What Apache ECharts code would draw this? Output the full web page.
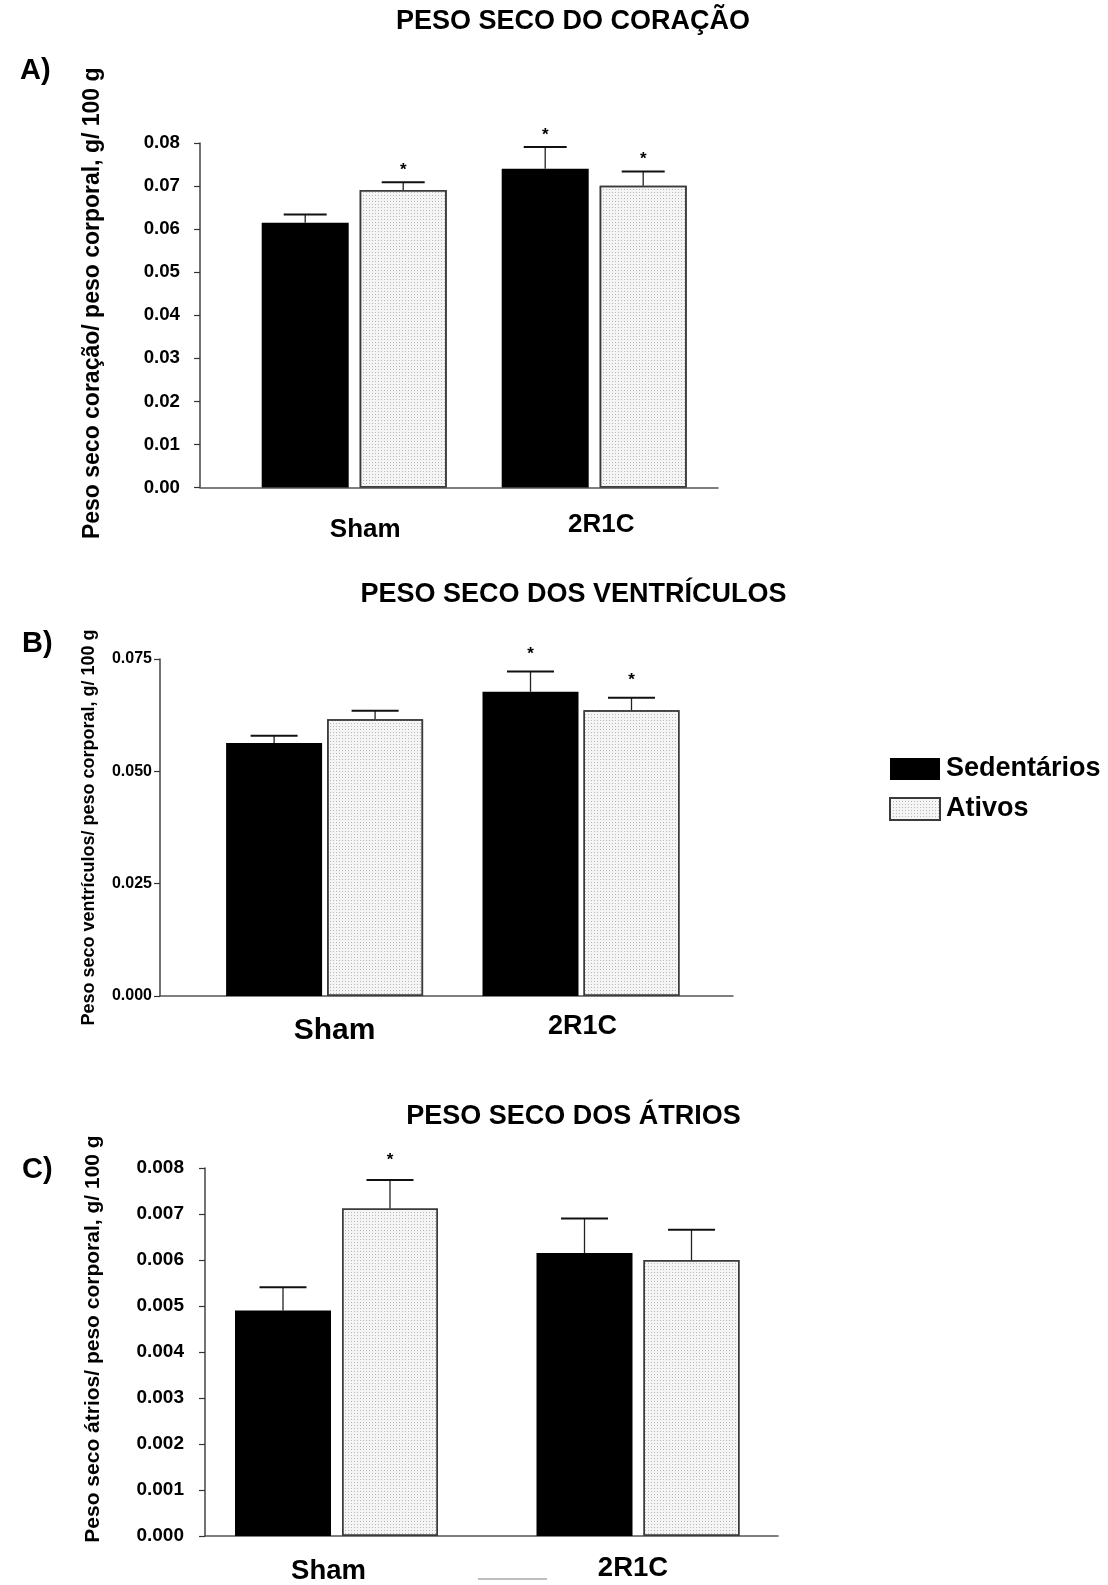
<!DOCTYPE html>
<html>
<head>
<meta charset="utf-8">
<script src="https://cdn.jsdelivr.net/npm/echarts@6/dist/echarts.min.js"></script>
<style>
html,body{margin:0;padding:0;background:#fff;}
#chart{width:1108px;height:1585px;}
</style>
</head>
<body>
<div id="chart"></div>
<script>
// ---------- DATA ----------
const categories = ['Sham', '2R1C'];
const groupNames = ['Sedentários', 'Ativos'];

// A) Peso seco do coração
const heartSed = [0.0615, 0.0740];
const heartSedErr = [0.0019, 0.0051];
const heartSedSig = [0, 1];
const heartAtiv = [0.0691, 0.0701];
const heartAtivErr = [0.0018, 0.0033];
const heartAtivSig = [1, 1];
const heartAxis = {min: 0, max: 0.08, interval: 0.01, decimals: 2};

// B) Peso seco dos ventrículos
const ventSed = [0.0563, 0.0677];
const ventSedErr = [0.0016, 0.0045];
const ventSedSig = [0, 1];
const ventAtiv = [0.0616, 0.0636];
const ventAtivErr = [0.0019, 0.0028];
const ventAtivSig = [0, 1];
const ventAxis = {min: 0, max: 0.075, interval: 0.025, decimals: 3};

// C) Peso seco dos átrios
const atrSed = [0.00490, 0.00615];
const atrSedErr = [0.00051, 0.00075];
const atrSedSig = [0, 0];
const atrAtiv = [0.00712, 0.00600];
const atrAtivErr = [0.00062, 0.00066];
const atrAtivSig = [1, 0];
const atrAxis = {min: 0, max: 0.008, interval: 0.001, decimals: 3};

const titles = ['PESO SECO DO CORAÇÃO', 'PESO SECO DOS VENTRÍCULOS', 'PESO SECO DOS ÁTRIOS'];
const panelTags = ['A)', 'B)', 'C)'];
const yNames = [
  'Peso seco coração/ peso corporal, g/ 100 g',
  'Peso seco ventrículos/ peso corporal, g/ 100 g',
  'Peso seco átrios/ peso corporal, g/ 100 g'
];

// ---------- LAYOUT / STYLE ----------
const FONT = '"Liberation Sans", Arial, Helvetica, sans-serif';
const panels = [
  {sed: heartSed, sedErr: heartSedErr, sedSig: heartSedSig, ativ: heartAtiv, ativErr: heartAtivErr, ativSig: heartAtivSig, axis: heartAxis,
   frame: {left: 200, top: 143, width: 518, height: 344.5},
   bars: {left: 234.2, width: 480}, barWidth: 87, gap: 11, cap: 43, starGap: 12,
   tickFont: 18.7, labelMargin: 20, nameFont: 23, nameGap: 95.5, namePad: 24,
   cat: [{fs: 26, lh: 30, pad: [55.5, 0, 0, 22]}, {fs: 26, lh: 30, pad: [44.5, 0, 0, 14]}],
   title: {x: 573, y: 22}, tag: {x: 20, y: 71}},
  {sed: ventSed, sedErr: ventSedErr, sedSig: ventSedSig, ativ: ventAtiv, ativErr: ventAtivErr, ativSig: ventAtivSig, axis: ventAxis,
   frame: {left: 160, top: 659, width: 573, height: 337},
   bars: {left: 196.4, width: 512.8}, barWidth: 96, gap: 5, cap: 47, starGap: 17,
   tickFont: 16, labelMargin: 8, nameFont: 18, nameGap: 62, namePad: 0,
   cat: [{fs: 30, lh: 34, pad: [35, 0, 0, 20]}, {fs: 27, lh: 34, pad: [27.5, 0, 0, 3]}],
   title: {x: 573.5, y: 594.5}, tag: {x: 22, y: 644}},
  {sed: atrSed, sedErr: atrSedErr, sedSig: atrSedSig, ativ: atrAtiv, ativErr: atrAtivErr, ativSig: atrAtivSig, axis: atrAxis,
   frame: {left: 205, top: 1168, width: 573, height: 368},
   bars: {left: 185.75, width: 603}, barWidth: 96, gap: 11, cap: 47, starGap: 20,
   tickFont: 19, labelMargin: 21, nameFont: 21, nameGap: 101.5, namePad: 26,
   cat: [{fs: 27.5, lh: 32, pad: [38, 16, 0, 0]}, {fs: 27.5, lh: 32, pad: [33, 10, 0, 0]}],
   title: {x: 573.5, y: 1117}, tag: {x: 22, y: 1170}}
];

const grid = [], xAxis = [], yAxis = [], series = [], graphic = [];

panels.forEach((p, k) => {
  const fi = 2 * k, bi = 2 * k + 1;
  grid.push({left: p.frame.left, top: p.frame.top, width: p.frame.width, height: p.frame.height, containLabel: false});
  grid.push({left: p.bars.left, top: p.frame.top, width: p.bars.width, height: p.frame.height, containLabel: false});

  // frame axes (visible lines, ticks, numbers)
  xAxis.push({type: 'category', gridIndex: fi, data: categories,
    axisLine: {show: true, lineStyle: {color: '#555', width: 1.5}},
    axisTick: {show: false}, axisLabel: {show: false}, splitLine: {show: false}});
  yAxis.push({type: 'value', gridIndex: fi, min: p.axis.min, max: p.axis.max, interval: p.axis.interval,
    name: yNames[k], nameLocation: 'middle', nameRotate: 90, nameGap: p.nameGap,
    nameTextStyle: {fontFamily: FONT, fontWeight: 'bold', fontSize: p.nameFont, color: '#000', padding: [0, 0, 0, p.namePad]},
    axisLine: {show: true, lineStyle: {color: '#444', width: 1.5}},
    axisTick: {show: true, inside: false, length: 6, lineStyle: {color: '#333', width: 1.2}},
    axisLabel: {margin: p.labelMargin, fontFamily: FONT, fontWeight: 'bold', fontSize: p.tickFont, color: '#000',
      formatter: v => v.toFixed(p.axis.decimals)},
    splitLine: {show: false}});

  // bar axes (category labels only)
  const rich = {};
  p.cat.forEach((c, i) => {
    rich['c' + i] = {fontFamily: FONT, fontWeight: 'bold', fontSize: c.fs, lineHeight: c.lh, color: '#000', padding: c.pad};
  });
  xAxis.push({type: 'category', gridIndex: bi, data: categories,
    axisLine: {show: false}, axisTick: {show: false},
    axisLabel: {show: true, interval: 0, margin: 0, formatter: (v, i) => '{c' + i + '|' + v + '}', rich: rich}});
  yAxis.push({type: 'value', gridIndex: bi, min: p.axis.min, max: p.axis.max, interval: p.axis.interval, show: false});

  series.push({type: 'bar', name: groupNames[0], xAxisIndex: bi, yAxisIndex: bi, data: p.sed,
    barWidth: p.barWidth, barGap: (p.gap / p.barWidth * 100) + '%',
    itemStyle: {color: '#000', borderColor: '#000', borderWidth: 0}, z: 2});
  series.push({type: 'bar', name: groupNames[1], xAxisIndex: bi, yAxisIndex: bi, data: p.ativ,
    barWidth: p.barWidth, barGap: (p.gap / p.barWidth * 100) + '%',
    itemStyle: {color: '#f5f5f5', borderColor: '#3a3a3a', borderWidth: 1.5,
      decal: {symbol: 'rect', symbolSize: 1, dashArrayX: [1, 2], dashArrayY: [1, 2], color: '#b8b8b8'}}, z: 2});

  // error bars + significance marks
  const half = (p.barWidth + p.gap) / 2;
  [[p.sed, p.sedErr, p.sedSig, -half], [p.ativ, p.ativErr, p.ativSig, half]].forEach(([m, e, s, off]) => {
    series.push({type: 'custom', xAxisIndex: bi, yAxisIndex: bi, z: 5, silent: true,
      data: m.map((v, i) => [i, v, e[i], s[i]]),
      renderItem: (params, api) => {
        const c = api.value(0), mean = api.value(1), err = api.value(2), sig = api.value(3);
        const p0 = api.coord([c, mean]);
        const p1 = api.coord([c, mean + err]);
        const x = p0[0] + off;
        const children = [
          {type: 'line', shape: {x1: x, y1: p0[1], x2: x, y2: p1[1]}, style: {stroke: '#222', lineWidth: 1.3}},
          {type: 'line', shape: {x1: x - p.cap / 2, y1: p1[1], x2: x + p.cap / 2, y2: p1[1]}, style: {stroke: '#111', lineWidth: 2}}
        ];
        if (sig) {
          children.push({type: 'text', x: x, y: p1[1] - p.starGap,
            style: {text: '*', fontFamily: FONT, fontWeight: 'bold', fontSize: 17, fill: '#000', align: 'center', verticalAlign: 'middle'}});
        }
        return {type: 'group', children: children};
      }});
  });

  graphic.push({type: 'text', x: p.title.x, y: p.title.y,
    style: {text: titles[k], fontFamily: FONT, fontWeight: 'bold', fontSize: 27, fill: '#000', align: 'center', verticalAlign: 'middle'}});
  graphic.push({type: 'text', x: p.tag.x, y: p.tag.y,
    style: {text: panelTags[k], fontFamily: FONT, fontWeight: 'bold', fontSize: 29, fill: '#000', align: 'left', verticalAlign: 'middle'}});
});

// stray line under the bottom panel
graphic.push({type: 'line', shape: {x1: 478, y1: 1579, x2: 547, y2: 1579}, style: {stroke: '#a8a8a8', lineWidth: 1.5}});

const chart = echarts.init(document.getElementById('chart'), null, {renderer: 'canvas'});
chart.setOption({
  backgroundColor: '#fff',
  animation: false,
  legend: {
    data: groupNames, orient: 'vertical', left: 889, top: 755.5, padding: 0,
    icon: 'rect', itemWidth: 50, itemHeight: 22, itemGap: 13, selectedMode: false,
    textStyle: {fontFamily: FONT, fontWeight: 'bold', fontSize: 27, color: '#000', padding: [0, 0, 0, 1]}
  },
  grid: grid, xAxis: xAxis, yAxis: yAxis, series: series, graphic: graphic
});
</script>
</body>
</html>
